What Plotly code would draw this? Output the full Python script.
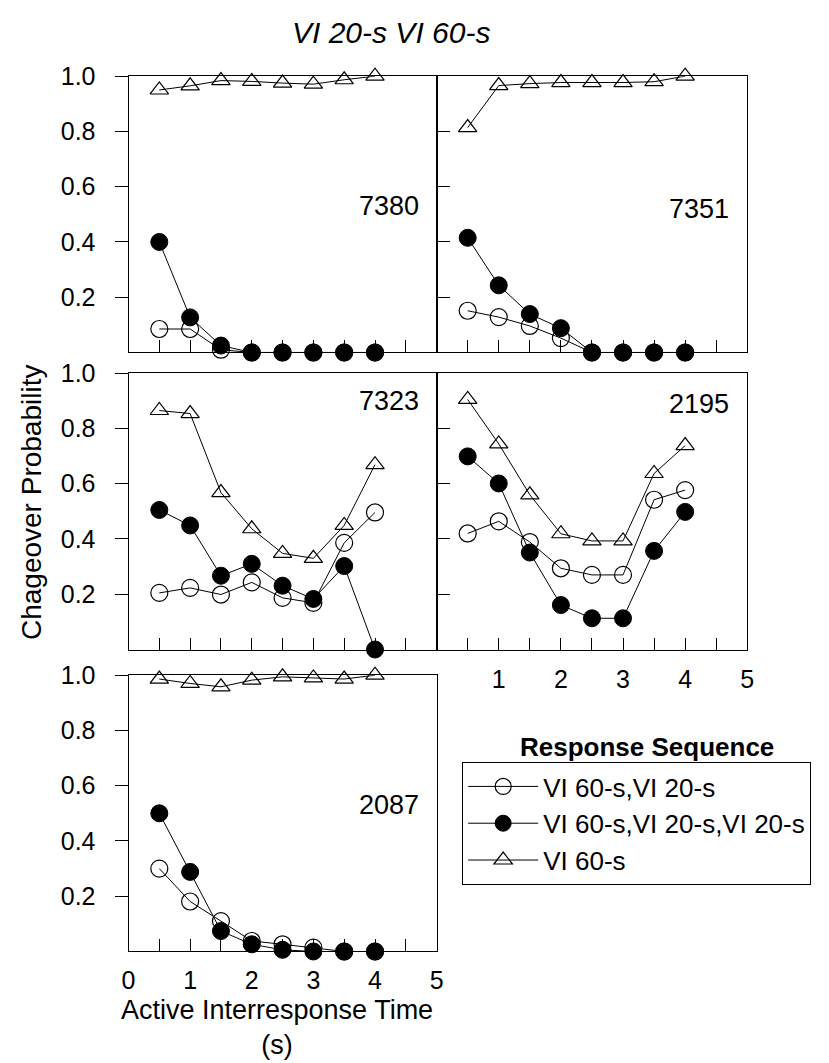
import plotly.graph_objects as go
from plotly.subplots import make_subplots

# ---------------- data ----------------
irt = [0.5, 1.0, 1.5, 2.0, 2.5, 3.0, 3.5, 4.0]

series_names = ["VI 60-s,VI 20-s", "VI 60-s,VI 20-s,VI 20-s", "VI 60-s"]

s7380_open = [0.085, 0.085, 0.010, 0.0, 0.0, 0.0, 0.0, 0.0]
s7380_filled = [0.400, 0.127, 0.025, 0.0, 0.0, 0.0, 0.0, 0.0]
s7380_tri = [0.950, 0.965, 0.984, 0.981, 0.975, 0.971, 0.987, 1.000]

s7351_open = [0.151, 0.128, 0.096, 0.052, 0.0, 0.0, 0.0, 0.0]
s7351_filled = [0.415, 0.243, 0.139, 0.088, 0.0, 0.0, 0.0, 0.0]
s7351_tri = [0.814, 0.966, 0.973, 0.977, 0.977, 0.977, 0.980, 1.000]

s7323_open = [0.205, 0.223, 0.199, 0.243, 0.187, 0.169, 0.386, 0.496]
s7323_filled = [0.505, 0.449, 0.267, 0.310, 0.231, 0.183, 0.302, 0.000]
s7323_tri = [0.865, 0.854, 0.568, 0.437, 0.348, 0.330, 0.449, 0.669]

s2195_open = [0.420, 0.464, 0.389, 0.294, 0.270, 0.270, 0.542, 0.577]
s2195_filled = [0.699, 0.601, 0.351, 0.161, 0.113, 0.113, 0.357, 0.498]
s2195_tri = [0.905, 0.744, 0.560, 0.419, 0.393, 0.393, 0.637, 0.738]

s2087_open = [0.300, 0.181, 0.110, 0.038, 0.026, 0.014, 0.0, 0.0]
s2087_filled = [0.500, 0.288, 0.074, 0.026, 0.006, 0.0, 0.0, 0.0]
s2087_tri = [0.986, 0.970, 0.958, 0.982, 0.994, 0.990, 0.986, 1.000]

subjects = ["7380", "7351", "7323", "2195", "2087"]
panel_data = [
    (s7380_open, s7380_filled, s7380_tri),
    (s7351_open, s7351_filled, s7351_tri),
    (s7323_open, s7323_filled, s7323_tri),
    (s2195_open, s2195_filled, s2195_tri),
    (s2087_open, s2087_filled, s2087_tri),
]
panel_pos = [(1, 1), (1, 2), (2, 1), (2, 2), (3, 1)]
label_pos = [(4.75, 0.53), (4.73, 0.52), (4.75, 0.90), (4.73, 0.89), (4.75, 0.53)]

xtick_vals = [0, 0.5, 1, 1.5, 2, 2.5, 3, 3.5, 4, 4.5, 5]
xtick_text_full = ["0", "", "1", "", "2", "", "3", "", "4", "", "5"]
xtick_text_no0 = ["", "", "1", "", "2", "", "3", "", "4", "", "5"]
ytick_vals = [0.2, 0.4, 0.6, 0.8, 1.0]
ytick_text = ["0.2", "0.4", "0.6", "0.8", "1.0"]

FONT = "Liberation Sans, Arial, sans-serif"
W, H = 829, 1063


def sx(v):  # pixel x -> paper fraction
    return v / W


def sy(v):  # pixel y (from top) -> paper fraction
    return 1 - v / H


fig = make_subplots(rows=3, cols=2, specs=[[{}, {}], [{}, {}], [{}, None]])

styles = [
    dict(symbol="circle-open", size=17, color="black", line=dict(width=1.2, color="black")),
    dict(symbol="circle", size=17, color="black", line=dict(width=1, color="black")),
    dict(symbol="triangle-up-open", size=16, color="black", line=dict(width=1.2, color="black")),
]

for i, ((r, c), data) in enumerate(zip(panel_pos, panel_data)):
    for j, ys in enumerate(data):
        fig.add_trace(
            go.Scatter(
                x=irt, y=ys, mode="lines+markers",
                name=series_names[j], legendgroup=series_names[j],
                showlegend=(i == 0),
                line=dict(color="black", width=1),
                marker=styles[j], cliponaxis=False,
            ),
            row=r, col=c,
        )

xdom = {1: [sx(123.6), sx(437)], 2: [sx(437), sx(753)]}
ydom = {1: [sy(343), sy(63)], 2: [sy(644), sy(364)], 3: [sy(950), sy(670)]}

axis_ids = ["", "2", "3", "4", "5"]
for k, ((r, c), aid) in enumerate(zip(panel_pos, axis_ids)):
    xa = "xaxis" + aid
    ya = "yaxis" + aid
    show_x_labels = (r, c) in [(3, 1), (2, 2)]
    fig.layout[xa].update(
        domain=xdom[c], range=[0, 5], showgrid=False, zeroline=False,
        showline=True, mirror=True, linecolor="black", linewidth=1,
        ticks="inside", ticklen=12, tickcolor="black", tickwidth=1,
        tickvals=xtick_vals,
        ticktext=(xtick_text_full if (r, c) == (3, 1) else xtick_text_no0),
        showticklabels=show_x_labels,
        tickfont=dict(family=FONT, size=25, color="black"),
        ticklabelstandoff=7,
    )
    if c == 1:
        fig.layout[ya].update(
            domain=ydom[r], range=[0, 1], showgrid=False, zeroline=False,
            showline=True, mirror=True, linecolor="black", linewidth=1,
            ticks="outside", ticklen=13, tickcolor="black", tickwidth=1,
            tickvals=ytick_vals, ticktext=ytick_text, showticklabels=True,
            tickfont=dict(family=FONT, size=25, color="black"),
            ticklabelstandoff=14,
        )
    else:
        fig.layout[ya].update(
            domain=ydom[r], range=[0, 1], showgrid=False, zeroline=False,
            showline=True, mirror=True, linecolor="black", linewidth=1,
            ticks="inside", ticklen=13, tickcolor="black", tickwidth=1,
            tickvals=ytick_vals, showticklabels=False,
        )
    lx, ly = label_pos[k]
    fig.add_annotation(
        x=lx, y=ly, xref="x" + aid, yref="y" + aid, text=subjects[k],
        showarrow=False, xanchor="right", yanchor="middle",
        font=dict(family=FONT, size=27, color="black"),
    )

# title
fig.add_annotation(
    x=sx(391), y=sy(19), xref="paper", yref="paper",
    text="<i>VI 20-s VI 60-s</i>", showarrow=False,
    xanchor="center", yanchor="middle",
    font=dict(family=FONT, size=30, color="black"),
)
# y-axis title
fig.add_annotation(
    x=sx(25), y=sy(495), xref="paper", yref="paper",
    text="Chageover Probability", textangle=-90, showarrow=False,
    xanchor="center", yanchor="middle",
    font=dict(family=FONT, size=28, color="black"),
)
# x-axis title (two lines)
fig.add_annotation(
    x=sx(275), y=sy(1027), xref="paper", yref="paper",
    text="Active Interresponse Time<br>(s)", showarrow=False,
    xanchor="center", yanchor="middle",
    font=dict(family=FONT, size=27, color="black"),
)
# legend heading
fig.add_annotation(
    x=sx(651), y=sy(743), xref="paper", yref="paper",
    text="<b>Response Sequence</b>", showarrow=False,
    xanchor="center", yanchor="middle",
    font=dict(family=FONT, size=26, color="black"),
)

fig.update_layout(
    width=W, height=H,
    margin=dict(l=0, r=0, t=0, b=0),
    paper_bgcolor="white", plot_bgcolor="white",
    font=dict(family=FONT, color="black"),
    showlegend=True,
    legend=dict(
        x=sx(463), y=sy(758), xanchor="left", yanchor="top",
        bordercolor="black", borderwidth=1, bgcolor="white",
        font=dict(family=FONT, size=26, color="black"),
        itemwidth=70, tracegroupgap=0,
    ),
)

fig.write_html("out.html")
